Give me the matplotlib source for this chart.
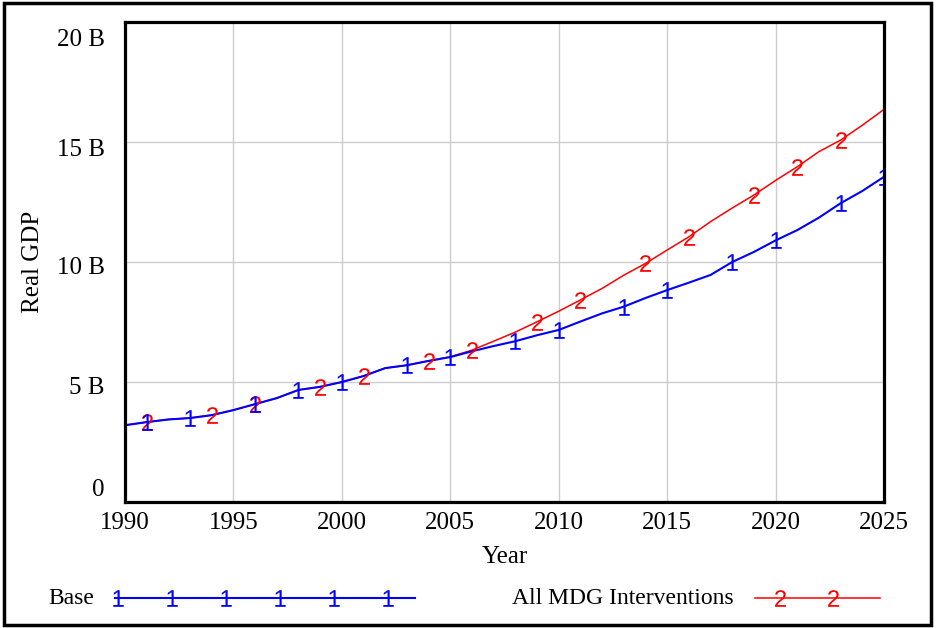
import matplotlib
matplotlib.use("Agg")
import matplotlib.pyplot as plt
from matplotlib.lines import Line2D
from matplotlib.patches import Rectangle
import numpy as np

plt.rcParams['font.family'] = ['Liberation Serif', 'DejaVu Serif']
plt.rcParams['mathtext.fontset'] = 'custom'
plt.rcParams['mathtext.rm'] = 'Liberation Sans'

years = list(range(1990, 2026))
# Real GDP, billions
base = [3.20, 3.33, 3.44, 3.50, 3.62, 3.83, 4.08, 4.33, 4.67, 4.80,
        5.00, 5.25, 5.58, 5.70, 5.88, 6.04, 6.28, 6.50, 6.70, 6.95,
        7.17, 7.52, 7.86, 8.14, 8.50, 8.83, 9.14, 9.46, 10.00, 10.42,
        10.90, 11.33, 11.85, 12.45, 12.96, 13.55]
all_mdg = [3.20, 3.33, 3.44, 3.50, 3.62, 3.83, 4.08, 4.33, 4.67, 4.80,
           5.00, 5.25, 5.58, 5.70, 5.88, 6.05, 6.33, 6.70, 7.08, 7.51,
           7.95, 8.42, 8.90, 9.45, 9.94, 10.50, 11.05, 11.68, 12.25, 12.79,
           13.40, 13.97, 14.60, 15.08, 15.70, 16.36]

base_marks = [1991, 1993, 1996, 1998, 2000, 2003, 2005, 2008, 2010, 2013,
              2015, 2018, 2020, 2023, 2025]
mdg_marks = [1991, 1994, 1996, 1999, 2001, 2004, 2006, 2009, 2011, 2014,
             2016, 2019, 2021, 2023]

x_ticks = [1990, 1995, 2000, 2005, 2010, 2015, 2020, 2025]
y_ticks = [0, 5, 10, 15, 20]
y_labels = ['0', '5 B', '10 B', '15 B', '20 B']

BLUE = '#0000ff'
RED = '#ff0000'
FS = 18
LFS = 17
MS = 12

fig = plt.figure(figsize=(9.37, 6.28), dpi=100)
fig.add_artist(Rectangle((0.004, 0.004), 0.99, 0.991, transform=fig.transFigure,
                         fill=False, edgecolor='black', linewidth=2.5))

ax = fig.add_axes([0.1334, 0.2006, 0.81, 0.7643])
ax.set_xlim(1990, 2025)
ax.set_ylim(0, 20)
for s in ax.spines.values():
    s.set_linewidth(2.3)
ax.set_xticks(x_ticks)
ax.set_yticks(y_ticks)
ax.tick_params(length=0, labelleft=False, labelsize=FS, pad=7)
ax.grid(True, color='#cccccc', linewidth=1)
ax.set_axisbelow(True)

# y labels sit a little inside the axis range
offsets = {0: 12, 5: -6, 10: -6, 15: -8, 20: -18}
for v, lab in zip(y_ticks, y_labels):
    ax.annotate(lab, xy=(0, v), xycoords=('axes fraction', 'data'),
                xytext=(-20, offsets[v]), textcoords='offset pixels',
                ha='right', va='center', fontsize=FS)

ax.set_xlabel('Year', fontsize=FS, labelpad=9)
ax.set_ylabel('Real GDP', fontsize=FS, labelpad=58)

marker1 = r'$\mathrm{1}$'
marker2 = r'$\mathrm{2}$'

ax.plot(years, all_mdg, color=RED, linewidth=1.1)
ax.plot(years, base, color=BLUE, linewidth=1.5)
ax.plot(mdg_marks, [all_mdg[years.index(y)] for y in mdg_marks], linestyle='none',
        marker=marker2, markersize=MS, color=RED, markeredgewidth=0)
ax.plot(base_marks, [base[years.index(y)] for y in base_marks], linestyle='none',
        marker=marker1, markersize=MS, color=BLUE, markeredgewidth=0)

# legend row along the bottom
W, H = 937.0, 628.0
ly = 1 - 598 / H
fig.text(48 / W, ly, 'Base', fontsize=LFS, va='center', ha='left')
fig.add_artist(Line2D([115 / W, 415 / W], [ly, ly], color=BLUE, linewidth=1.5,
                      transform=fig.transFigure))
bx = [118, 172, 226, 280, 334, 388]
fig.add_artist(Line2D([x / W for x in bx], [ly] * len(bx), linestyle='none',
                      marker=marker1, markersize=MS, color=BLUE, markeredgewidth=0,
                      transform=fig.transFigure))
fig.text(512 / W, ly, 'All MDG Interventions', fontsize=LFS, va='center', ha='left')
fig.add_artist(Line2D([755 / W, 880 / W], [ly, ly], color=RED, linewidth=1.1,
                      transform=fig.transFigure))
rx = [780, 833]
fig.add_artist(Line2D([x / W for x in rx], [ly] * len(rx), linestyle='none',
                      marker=marker2, markersize=MS, color=RED, markeredgewidth=0,
                      transform=fig.transFigure))

fig.savefig('out.png', dpi=100)
